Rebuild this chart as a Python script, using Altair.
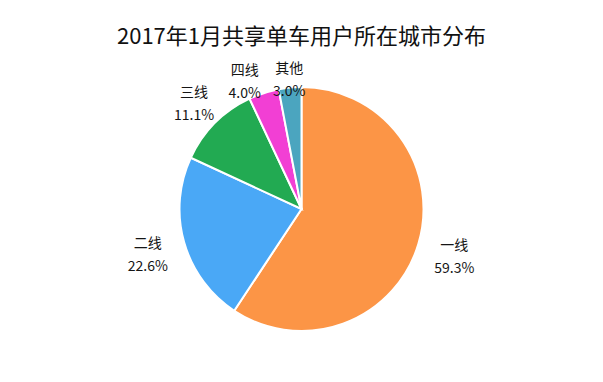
import altair as alt
import pandas as pd

categories = ["一线", "二线", "三线", "四线", "其他"]
shares = [59.3, 22.6, 11.1, 4.0, 3.0]
pct_labels = ["59.3%", "22.6%", "11.1%", "4.0%", "3.0%"]
colors = ["#FC9546", "#4AA8F6", "#22AA52", "#F23FD4", "#4BA5BF"]

df = pd.DataFrame({
    "cat": categories,
    "share": shares,
    "pct": pct_labels,
    "idx": list(range(len(categories))),
})

pie = alt.Chart(df).mark_arc(outerRadius=122, stroke="white", strokeWidth=2).encode(
    theta=alt.Theta("share:Q", stack=True),
    order=alt.Order("idx:Q"),
    color=alt.Color("cat:N", scale=alt.Scale(domain=categories, range=colors), legend=None),
)

font = "Noto Sans CJK SC"
n = len(categories)
lab = alt.Chart(df).transform_window(
    cum="sum(share)", sort=[alt.SortField("idx")], frame=[None, 0]
).transform_joinaggregate(
    total="sum(share)"
).transform_calculate(
    mid="(datum.cum - datum.share / 2) / datum.total * 2 * PI",
).transform_calculate(
    # spread the labels of small neighbouring slices apart (as the reference does)
    lmid=f"datum.mid - ((datum.share < 5 && datum.idx < {n - 1}) ? 0.1 : 0)",
).transform_calculate(
    lr="128 + 33 * abs(sin(datum.lmid))"
).encode(
    theta=alt.Theta("lmid:Q", scale=None, stack=None),
    radius=alt.Radius("lr:Q", scale=None),
)

names = lab.mark_text(dy=-9, fontSize=14, font=font, color="#151515").encode(text="cat:N")
pcts = lab.mark_text(dy=14, fontSize=14, font=font, color="#151515").encode(text="pct:N")

chart = alt.layer(pie, names, pcts).properties(
    width=587,
    height=300,
    padding={"top": 18, "left": 0, "right": 0, "bottom": 0},
    title=alt.TitleParams(
        "2017年1月共享单车用户所在城市分布",
        fontSize=22,
        font=font,
        fontWeight="normal",
        color="#111111",
        anchor="middle",
        offset=10,
    ),
).configure_view(stroke=None).configure(background="white")

chart.save("out.html", embed_options={"renderer": "svg", "actions": False})
